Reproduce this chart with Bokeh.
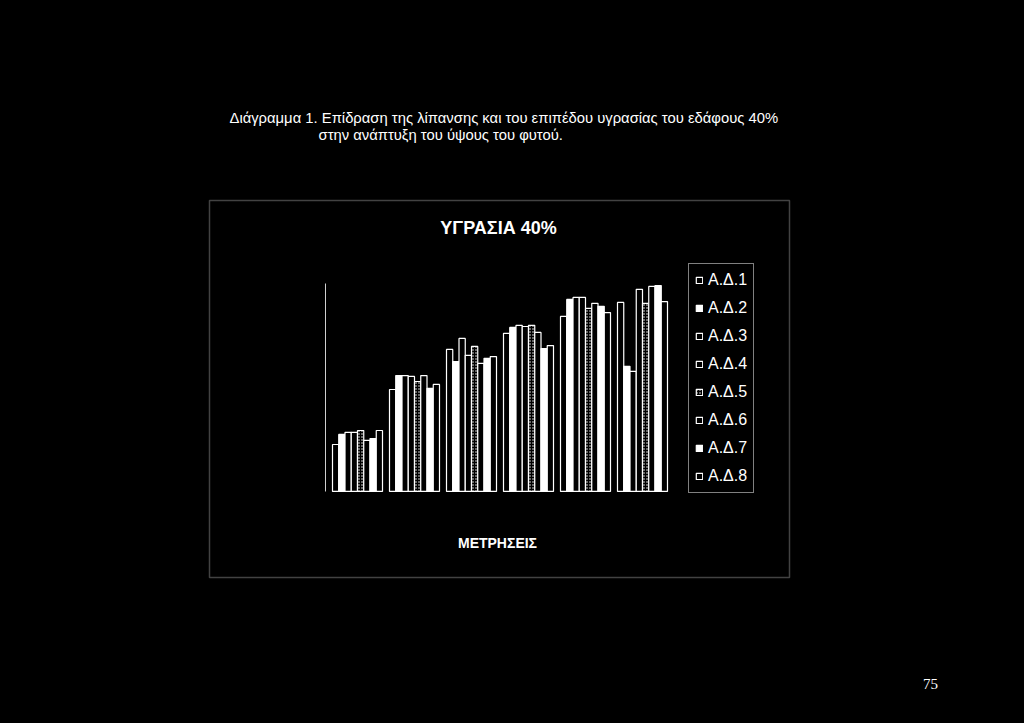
from bokeh.plotting import figure
from bokeh.models import (FactorRange, Range1d, Label, Legend, LegendItem,
                          ColumnDataSource, BoxAnnotation)
from bokeh.embed import file_html
from bokeh.resources import INLINE

# ---------------- data (plant height, arbitrary cm scale) ----------------
measurements = ["1", "2", "3", "4", "5", "6"]
series_names = ["Α.Δ.1", "Α.Δ.2", "Α.Δ.3", "Α.Δ.4", "Α.Δ.5", "Α.Δ.6", "Α.Δ.7", "Α.Δ.8"]
AD1 = [15.8, 34.3, 47.8, 53.2, 58.9, 63.6]
AD2 = [19.2, 39.0, 43.7, 55.2, 64.6, 42.1]
AD3 = [19.9, 39.0, 51.5, 55.9, 65.3, 40.4]
AD4 = [19.9, 38.7, 45.8, 55.5, 65.3, 68.0]
AD5 = [20.5, 37.0, 48.8, 55.9, 61.6, 63.3]
AD6 = [17.2, 39.0, 43.1, 53.5, 63.3, 69.0]
AD7 = [17.8, 34.7, 44.8, 48.1, 62.3, 69.3]
AD8 = [20.5, 36.0, 45.4, 49.1, 60.2, 63.9]
series_values = [AD1, AD2, AD3, AD4, AD5, AD6, AD7, AD8]
y_axis_max = 70

header_line1 = "Διάγραμμα 1. Επίδραση της λίπανσης και του επιπέδου υγρασίας του εδάφους 40%"
header_line2 = "στην ανάπτυξη του ύψους του φυτού."
chart_title = "ΥΓΡΑΣΙΑ 40%"
x_title = "ΜΕΤΡΗΣΕΙΣ"
page_number = "75"

# ---------------- figure (the page area is the plot frame) ----------------
W, H = 1008, 707
factors = [(m, s) for m in measurements for s in series_names]
x_range = FactorRange(*factors, factor_padding=0.0, group_padding=1.12,
                      range_padding=53.12, range_padding_units="absolute")

p = figure(width=W, height=H, x_range=x_range, y_range=Range1d(-72.7, 165.2),
           output_backend="svg", toolbar_location=None,
           min_border_left=0, min_border_right=9, min_border_top=0, min_border_bottom=0)
p.title.visible = False
p.background_fill_color = "#000000"
p.border_fill_color = "#000000"
p.outline_line_color = None
p.xgrid.visible = False
p.ygrid.visible = False
p.xaxis.visible = False
p.yaxis.fixed_location = -1.2
p.yaxis.bounds = (0, y_axis_max)
p.yaxis.axis_line_color = "#cfcfcf"
p.yaxis.axis_line_width = 1
p.yaxis.major_tick_line_color = None
p.yaxis.minor_tick_line_color = None
p.yaxis.major_tick_out = 0
p.yaxis.major_label_text_color = None
p.yaxis.major_label_text_font_size = "0px"

styles = {
    "Α.Δ.1": dict(fill_color="#000000"),
    "Α.Δ.2": dict(fill_color="#ffffff"),
    "Α.Δ.3": dict(fill_color="#000000"),
    "Α.Δ.4": dict(fill_color="#000000"),
    "Α.Δ.5": dict(fill_color="#000000", hatch_pattern="dot", hatch_color="#ffffff",
                  hatch_scale=3, hatch_weight=1),
    "Α.Δ.6": dict(fill_color="#000000"),
    "Α.Δ.7": dict(fill_color="#ffffff"),
    "Α.Δ.8": dict(fill_color="#000000"),
}

items = []
for name, vals in zip(series_names, series_values):
    src = ColumnDataSource(dict(x=[(m, name) for m in measurements], top=vals))
    r = p.vbar(x="x", top="top", width=1.0, source=src, line_color="#ffffff",
               line_width=1.2, **styles[name])
    items.append(LegendItem(label=name, renderers=[r]))

# chart box
p.add_layout(BoxAnnotation(left=209, right=789, bottom=130, top=507,
                           left_units="screen", right_units="screen",
                           bottom_units="screen", top_units="screen",
                           fill_alpha=0, line_color="#dcdcdc", line_width=1.5))

legend = Legend(items=items, location=(688, 214), background_fill_color="#000000",
                background_fill_alpha=1.0, border_line_color="#ffffff", border_line_width=1,
                label_text_color="#ffffff", label_text_font="Liberation Sans",
                label_text_font_size="16px", glyph_width=8, glyph_height=8,
                label_height=20, label_standoff=5, spacing=8, padding=6, margin=0)
p.add_layout(legend)


def lab(text, x, y, size, font="Liberation Sans", style="normal", align="left"):
    p.add_layout(Label(x=x, y=y, x_units="screen", y_units="screen", text=text,
                       text_color="#ffffff", text_font=font, text_font_size=size,
                       text_font_style=style, text_align=align, text_baseline="middle"))


lab(header_line1, 229, 590, "14.8px")
lab(header_line2, 318, 573, "14.8px")
lab(chart_title, 498, 480, "18px", style="bold", align="center")
lab(x_title, 497, 165, "14px", style="bold", align="center")
lab(page_number, 930, 24, "15px", font="Liberation Serif", align="center")

html = file_html(p, INLINE)
html = html.replace("</head>", "<style>html,body{background:#000000;}</style></head>", 1)
open("out.html", "w").write(html)
